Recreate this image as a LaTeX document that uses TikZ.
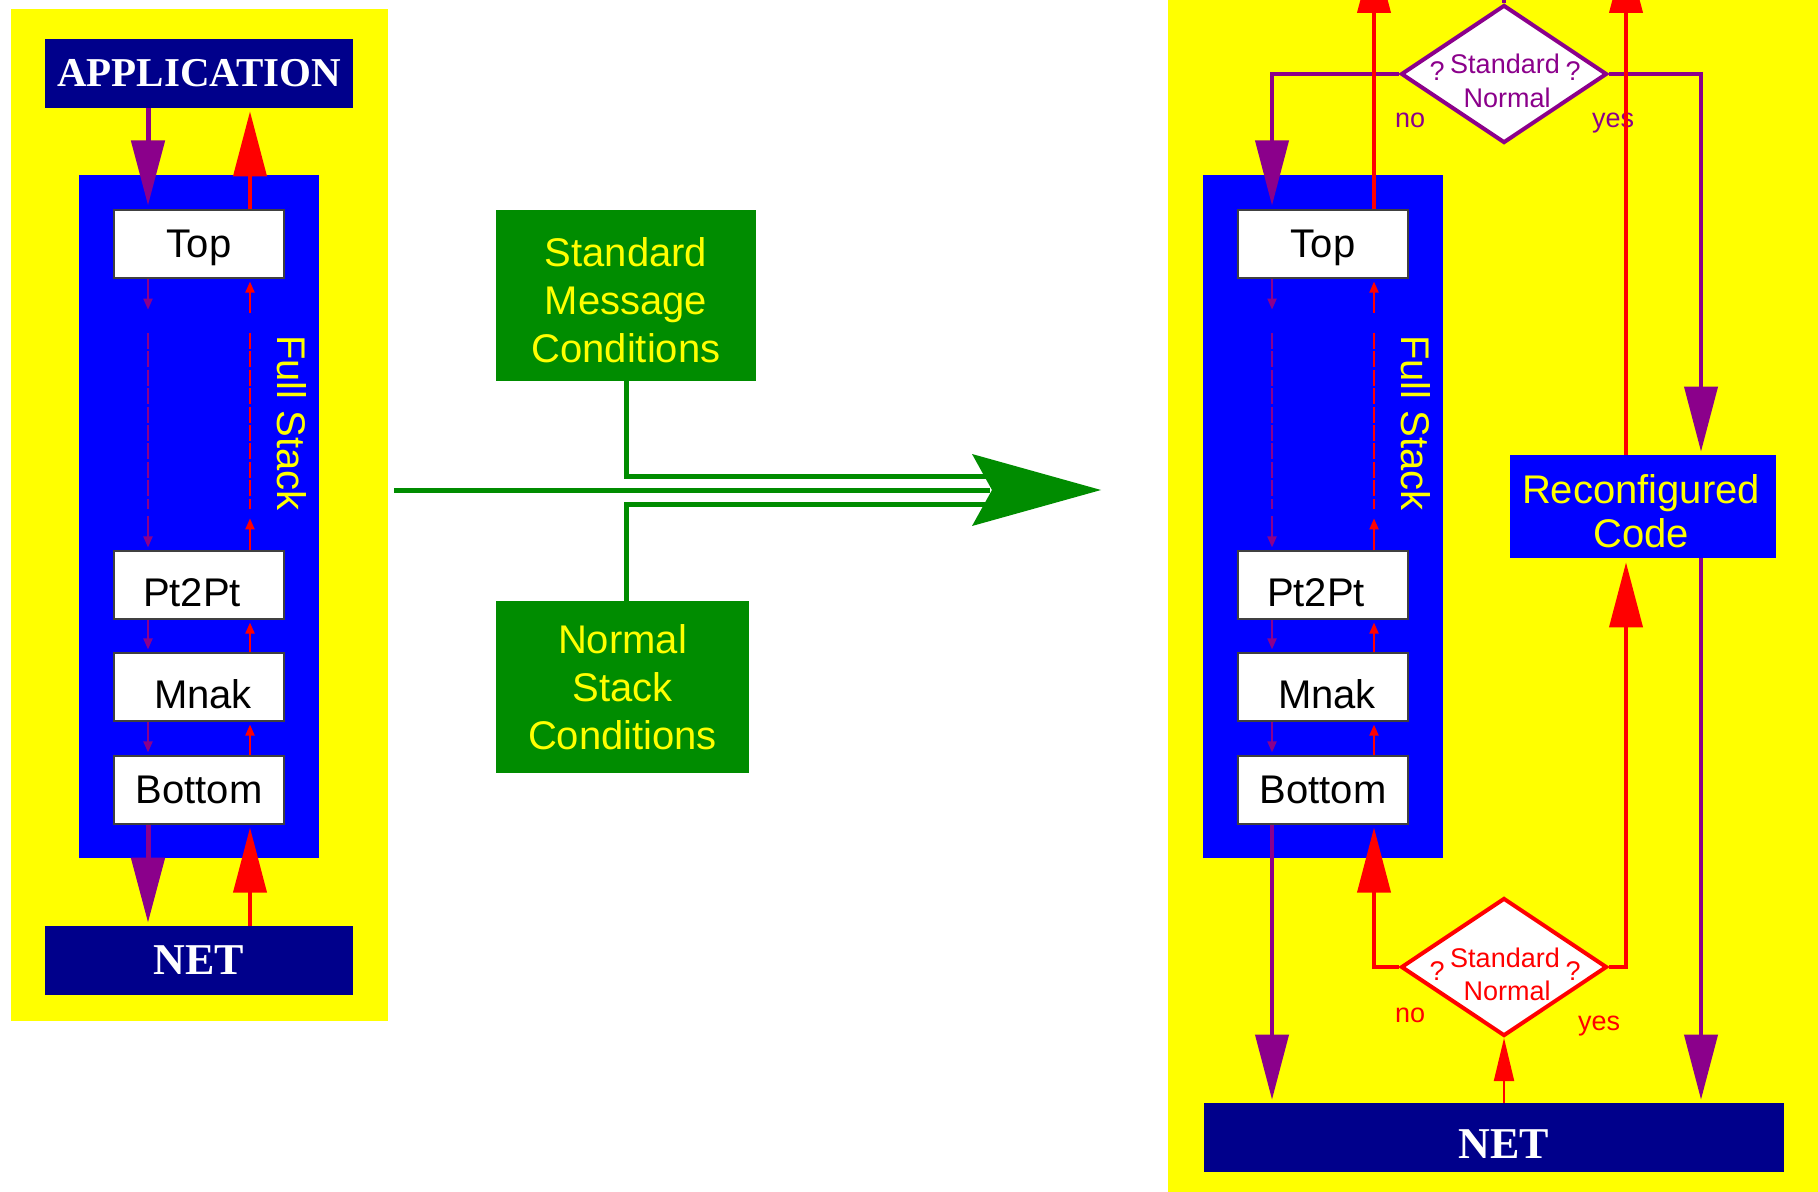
\documentclass[tikz,border=0pt]{standalone}
\usepackage{fontspec}
\setmainfont{Liberation Sans}
\newfontfamily\serifb{Liberation Serif}
\usetikzlibrary{arrows.meta,shapes.geometric,calc}
\definecolor{ylw}{RGB}{255,255,0}
\definecolor{navy}{RGB}{0,0,139}
\definecolor{pur}{RGB}{139,0,139}
\definecolor{grn}{RGB}{0,140,0}
\definecolor{blu}{RGB}{0,0,255}
\definecolor{rd}{RGB}{255,0,0}
\begin{document}
\begin{tikzpicture}[x=0.5pt,y=-0.5pt,
  layer/.style={draw=black!75, line width=0.6pt, fill=white, minimum width=85pt, minimum height=34pt, inner sep=0pt, text height=14pt, text depth=0pt, font=\fontsize{20pt}{24pt}\selectfont},
  hostbox/.style={fill=navy, text=white, inner sep=0pt, minimum height=34.5pt, font=\serifb\bfseries\fontsize{20.5pt}{24pt}\selectfont},
  boxfill/.style={inner sep=0pt},
  boxtext/.style={text=ylw, inner sep=0pt, align=center},
  cond/.style={boxtext, font=\fontsize{20pt}{24pt}\selectfont},
  rectext/.style={boxtext, font=\fontsize{20pt}{22pt}\selectfont},
  stacklbl/.style={text=ylw, rotate=-90, inner sep=0pt, font=\fontsize{20pt}{24pt}\selectfont},
  diam/.style={shape=diamond, line width=2pt, fill=white, minimum width=103pt, minimum height=69pt, inner sep=0pt},
  lbl/.style={font=\fontsize{13.5pt}{16pt}\selectfont, inner sep=0pt, anchor=base},
  bigP/.style={draw=pur, line width=2.5pt, -{Triangle[length=32.5pt,width=16.5pt]}},
  bigR/.style={draw=rd, line width=2pt, -{Triangle[length=32.5pt,width=16.5pt]}},
  smallP/.style={draw=pur, line width=1pt, -{Triangle[length=5.5pt,width=4.5pt]}},
  smallR/.style={draw=rd, line width=1pt, -{Triangle[length=5.5pt,width=4.5pt]}},
  dashP/.style={draw=pur, line width=0.6pt, dash pattern=on 8pt off 1.2pt},
  dashR/.style={draw=rd, line width=0.6pt, dash pattern=on 8pt off 1.2pt},
  gline/.style={draw=grn, line width=2.5pt}
]
\useasboundingbox (0,0) rectangle (1818,1192);
\clip (0,0) rectangle (1818,1192);
\fill[white] (0,0) rectangle (1818,1192);

% ---------- left panel ----------
\fill[ylw] (11,9) rectangle (388,1021);
\fill[blu] (79,175) rectangle (319,858);
\node[hostbox, minimum width=154pt] (app) at (199,73.5) {APPLICATION};
\node[hostbox, minimum width=154pt, font=\serifb\bfseries\fontsize{22pt}{24pt}\selectfont] (netL) at (199,960.5) {NET};
\node[layer] (topL) at (199,244) {Top};
\node[layer, text height=21pt] (ptL) at (199,585) {Pt2Pt\kern7pt};
\node[layer, text height=21pt] (mnL) at (199,687) {\kern4pt Mnak};
\node[layer, text height=13pt] (botL) at (199,790) {Bottom};
\node[stacklbl] (fsL) at (292,423) {Full Stack};
\coordinate (pL) at (148,0);
\coordinate (rL) at (250,0);
\coordinate (dPLa) at (148,333);
\coordinate (dPLb) at (148,509);
\coordinate (dRLa) at (250,333);
\coordinate (dRLb) at (250,509);

\draw[bigP, shorten >=2pt] (app.south -| pL) -- (topL.north -| pL);
\draw[bigR, shorten >=1.5pt] (topL.north -| rL) -- (app.south -| rL);
\draw[bigP, shorten >=1.5pt] (botL.south -| pL) -- (netL.north -| pL);
\draw[bigR, shorten >=1.5pt] (netL.north -| rL) -- (botL.south -| rL);

\draw[smallP] (topL.south -| pL) -- ++(0,31);
\draw[dashP] (dPLa) -- (dPLb);
\draw[smallP, shorten >=1.5pt] ($(ptL.north -| pL)+(0,-34)$) -- (ptL.north -| pL);
\draw[smallP, shorten >=1.5pt] (ptL.south -| pL) -- (mnL.north -| pL);
\draw[smallP, shorten >=1.5pt] (mnL.south -| pL) -- (botL.north -| pL);
\draw[smallR, shorten >=1.5pt] ($(topL.south -| rL)+(0,34)$) -- (topL.south -| rL);
\draw[dashR] (dRLa) -- (dRLb);
\draw[smallR] (ptL.north -| rL) -- ++(0,-32);
\draw[smallR, shorten >=1.5pt] (mnL.north -| rL) -- (ptL.south -| rL);
\draw[smallR, shorten >=1.5pt] (botL.north -| rL) -- (mnL.south -| rL);

% ---------- middle ----------
\node[boxfill, fill=grn, minimum width=130pt, minimum height=85.5pt] (smc) at (626,295.5) {};
\node[cond] (smct) at (626,300) {Standard\\Message\\Conditions};
\node[boxfill, fill=grn, minimum width=126.5pt, minimum height=86pt] (nsc) at (622.5,687) {};
\node[cond] (nsct) at (622.5,687) {Normal\\Stack\\Conditions};
\coordinate (gs) at (394,490);
\coordinate (ge) at (990,490);
\coordinate (gb) at (626,0);
\draw[gline] (gs) -- (ge);
\draw[gline] (smc.south -| gb) |- ($(ge)+(0,-14)$);
\draw[gline] (nsc.north -| gb) |- ($(ge)+(0,14)$);
\fill[grn] (1101,490) -- (972,454) -- (992,490) -- (972,526) -- cycle;

% ---------- right panel ----------
\fill[ylw] (1168,0) rectangle (1818,1192);
\fill[blu] (1203,175) rectangle (1443,858);
\node[layer] (topR) at (1323,244) {Top};
\node[layer, text height=21pt] (ptR) at (1323,585) {Pt2Pt\kern7pt};
\node[layer, text height=21pt] (mnR) at (1323,687) {\kern4pt Mnak};
\node[layer, text height=13pt] (botR) at (1323,790) {Bottom};
\node[stacklbl] (fsR) at (1416,423) {Full Stack};
\node[hostbox, minimum width=290pt, text height=20.5pt, text depth=0pt, font=\serifb\bfseries\fontsize{22pt}{24pt}\selectfont] (netR) at (1494,1137.5) {\kern10pt NET};
\node[boxfill, fill=blu, minimum width=133pt, minimum height=51.5pt] (rc) at (1643,506.5) {};
\node[rectext] (rct) at (1641,511.5) {Reconfigured\\Code};

\node[diam, draw=pur] (dT) at (1504,74) {};
\node[lbl, text=pur] (dTs) at (1505,74) {Standard};
\node[lbl, text=pur] (dTn) at (1507,108) {Normal};
\node[lbl, text=pur] (dTq1) at (1437,81) {?};
\node[lbl, text=pur] (dTq2) at (1573,81) {?};
\node[lbl, text=pur] (dTno) at (1410,128) {no};
\node[lbl, text=pur] (dTyes) at (1613,128) {yes};

\node[diam, draw=rd] (dB) at (1504,967) {};
\node[lbl, text=rd] (dBs) at (1505,967) {Standard};
\node[lbl, text=rd] (dBn) at (1507,1000) {Normal};
\node[lbl, text=rd] (dBq1) at (1437,980) {?};
\node[lbl, text=rd] (dBq2) at (1573,980) {?};
\node[lbl, text=rd] (dBno) at (1410,1022) {no};
\node[lbl, text=rd] (dByes) at (1599,1030) {yes};

\coordinate (pR) at (1272,0);
\coordinate (rR) at (1374,0);
\coordinate (pC) at (1701,0);
\coordinate (rC) at (1626,0);
\coordinate (dTin) at (1504,-10);
\coordinate (tipA) at (1374,-52);
\coordinate (tipB) at (1626,-52);
\coordinate (dPRa) at (1272,333);
\coordinate (dPRb) at (1272,509);
\coordinate (dRRa) at (1374,333);
\coordinate (dRRb) at (1374,509);

\draw[smallP] (topR.south -| pR) -- ++(0,31);
\draw[dashP] (dPRa) -- (dPRb);
\draw[smallP, shorten >=1.5pt] ($(ptR.north -| pR)+(0,-34)$) -- (ptR.north -| pR);
\draw[smallP, shorten >=1.5pt] (ptR.south -| pR) -- (mnR.north -| pR);
\draw[smallP, shorten >=1.5pt] (mnR.south -| pR) -- (botR.north -| pR);
\draw[smallR, shorten >=1.5pt] ($(topR.south -| rR)+(0,34)$) -- (topR.south -| rR);
\draw[dashR] (dRRa) -- (dRRb);
\draw[smallR] (ptR.north -| rR) -- ++(0,-32);
\draw[smallR, shorten >=1.5pt] (mnR.north -| rR) -- (ptR.south -| rR);
\draw[smallR, shorten >=1.5pt] (botR.north -| rR) -- (mnR.south -| rR);

\draw[pur, line width=2pt] (dT.north) -- (dTin);
\draw[bigP, line width=2pt, shorten >=2pt] (dT.west) -| (topR.north -| pR);
\draw[bigP, line width=2pt, shorten >=1.5pt] (dT.east) -| (rc.north -| pC);
\draw[bigR] (topR.north -| rR) -- (tipA);
\draw[bigR] (rc.north -| rC) -- (tipB);
\draw[bigP, line width=2pt, shorten >=1.5pt] (botR.south -| pR) -- (netR.north -| pR);
\draw[bigP, line width=2pt, shorten >=1.5pt] (rc.south -| pC) -- (netR.north -| pC);
\draw[bigR, shorten >=1.5pt] (dB.west) -| (botR.south -| rR);
\draw[bigR, shorten >=2pt] (dB.east) -| (rc.south -| rC);
\draw[draw=rd, line width=1pt, -{Triangle[length=21.5pt,width=10pt]}] (netR.north -| dB.south) -- (dB.south);
\end{tikzpicture}
\end{document}
